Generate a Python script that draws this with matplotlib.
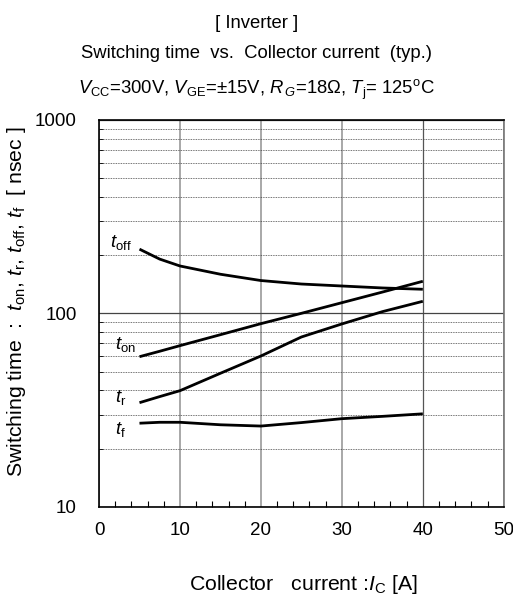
import numpy as np
import matplotlib
matplotlib.use("Agg")
import matplotlib.pyplot as plt
from matplotlib.ticker import FixedLocator, NullFormatter

plt.rcParams['font.family'] = ['Liberation Sans', 'DejaVu Sans']
plt.rcParams['mathtext.fontset'] = 'custom'
plt.rcParams['mathtext.rm'] = 'Liberation Sans'
plt.rcParams['mathtext.it'] = 'Liberation Sans:italic'
plt.rcParams['mathtext.bf'] = 'Liberation Sans:bold'

# (collector current [A], time [ns])
ic = [5, 7.5, 10, 15, 20, 25, 30, 35, 40]
t_off = [215, 191, 176, 159.5, 148, 142, 138.7, 135.5, 133.4]
t_on = [59.8, 63.8, 68.2, 77.7, 88.6, 100.2, 113.7, 129, 146.7]
t_r = [34.6, 37.2, 39.9, 49.1, 60.3, 75.6, 88.3, 102.2, 115.6]
t_f = [27.1, 27.4, 27.4, 26.6, 26.2, 27.3, 28.6, 29.4, 30.3]

curve_labels = [
    (1.4, 232, r'$t_{\rm off}$'),
    (2.0, 69, r'$t_{\rm on}$'),
    (2.0, 37, r'$t_{\rm r}$'),
    (2.0, 25, r'$t_{\rm f}$'),
]

fig = plt.figure(figsize=(5.13, 5.99), dpi=100)
ax = fig.add_axes([0.193, 0.1536, 0.789, 0.6461])

for ys in (t_off, t_on, t_r, t_f):
    ax.plot(ic, ys, color='black', lw=2.0, solid_capstyle='butt')

for x, y, s in curve_labels:
    ax.text(x, y, s, fontsize=13.5, ha='left', va='center')

ax.set_yscale('log')
ax.set_xlim(0, 50)
ax.set_ylim(10, 1000)
ax.set_xticks([0, 10, 20, 30, 40, 50])
ax.xaxis.set_minor_locator(FixedLocator(np.arange(2, 50, 2)))
ax.yaxis.set_major_locator(FixedLocator([10, 100, 1000]))
ax.set_yticklabels(['10', '100', '1000'])
minor_y = [m * d for d in (10, 100) for m in range(2, 10)]
ax.yaxis.set_minor_locator(FixedLocator(minor_y))
ax.yaxis.set_minor_formatter(NullFormatter())

ax.tick_params(axis='x', which='major', length=0, pad=11, labelsize=13.5)
ax.tick_params(axis='x', which='minor', direction='in', length=4, width=0.8)
ax.tick_params(axis='y', which='major', length=0, pad=16, labelsize=13.5)
ax.tick_params(axis='y', which='minor', direction='in', length=3, width=0.6)

ax.grid(True, axis='x', which='major', color='#999999', lw=1.2)
ax.grid(True, axis='y', which='major', color='#444444', lw=0.9)
ax.grid(True, axis='y', which='minor', color='#444444', lw=0.6, ls=(0, (1, 1)))
ax.set_axisbelow(True)
# the 40 A line is drawn darker and thinner in the original
ax.get_xgridlines()[4].set_color('#555555')
ax.get_xgridlines()[4].set_linewidth(0.9)

for sp in ax.spines.values():
    sp.set_linewidth(1.2)
ax.spines['right'].set_color('#777777')

fig.text(0.5, 1 - 28 / 599, '[ Inverter ]', ha='center', va='baseline', fontsize=13.3)
fig.text(0.5, 1 - 58 / 599, 'Switching time  vs.  Collector current  (typ.)',
         ha='center', va='baseline', fontsize=13.3)
fig.text(0.5, 1 - 94 / 599,
         r'$V_{\rm CC}$=300V, $V_{\rm GE}$=±15V, $R_{\,G}$=18$\Omega$, $T_{\rm j}$= 125$^{\rm o}$C',
         ha='center', va='baseline', fontsize=13.3)
fig.text(17 / 513, 1 - 302 / 599,
         r'Switching time  :  $t_{\rm on}$, $t_{\rm r}$, $t_{\rm off}$, $t_{\rm f}$  [ nsec ]',
         ha='center', va='center', rotation=90, fontsize=15.3)
fig.text(304 / 513, 1 - 584 / 599, r'Collector   current :$I_{\rm C}$ [A]',
         ha='center', va='center', fontsize=15.3)

fig.savefig('out.png', dpi=100)
